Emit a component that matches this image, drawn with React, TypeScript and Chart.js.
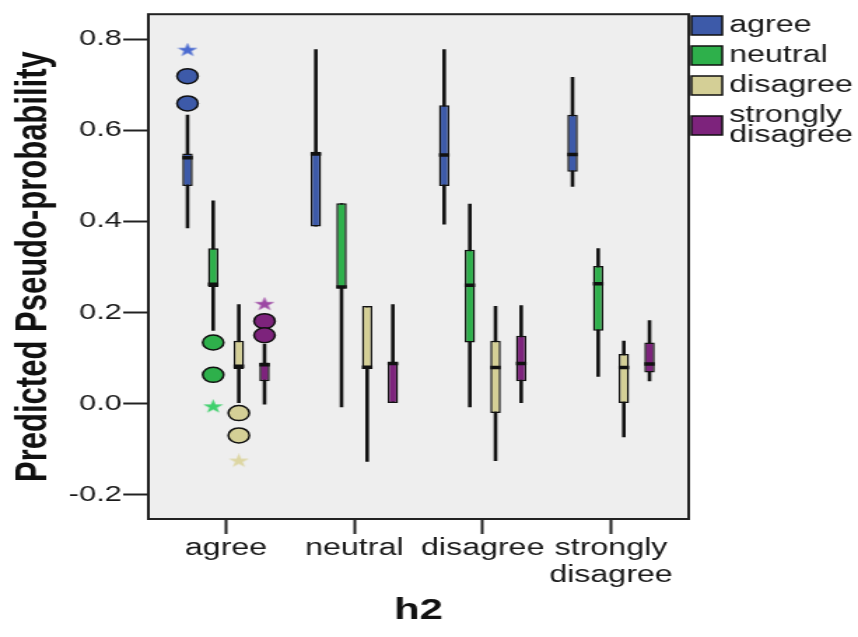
import React, { useEffect, useRef } from 'react';
import { Chart, registerables } from 'chart.js';

Chart.register(...registerables);

// ---------- data ----------
const CATEGORIES: (string | string[])[] = ['agree', 'neutral', 'disagree', ['strongly', 'disagree']];
const CATEGORY_POSITIONS = [0, 1, 2, 3];
const SERIES_LABELS: string[][] = [['agree'], ['neutral'], ['disagree'], ['strongly', 'disagree']];
const SERIES_COLORS = ['#3d5aa9', '#2eb04b', '#d4cf96', '#7d237c'];
const STAR_COLORS = ['#4a6ad0', '#3fd06c', '#ddd6a2', '#9c48a4'];
const SERIES_OFFSETS = [-0.3, -0.1, 0.1, 0.3];
const Y_TICKS = [-0.2, 0, 0.2, 0.4, 0.6, 0.8];

// series "agree"
const AGREE_WLO = [0.385, 0.389, 0.393, 0.476];
const AGREE_Q1 = [0.478, 0.389, 0.478, 0.509];
const AGREE_MED = [0.540, 0.548, 0.546, 0.547];
const AGREE_Q3 = [0.549, 0.553, 0.655, 0.634];
const AGREE_WHI = [0.634, 0.778, 0.778, 0.717];
const AGREE_OUTLIERS = [0.719, 0.659];
const AGREE_EXTREMES = [0.776];

// series "neutral"
const NEUTRAL_WLO = [0.160, -0.008, -0.008, 0.059];
const NEUTRAL_Q1 = [0.256, 0.253, 0.134, 0.160];
const NEUTRAL_MED = [0.262, 0.256, 0.260, 0.263];
const NEUTRAL_Q3 = [0.341, 0.440, 0.338, 0.302];
const NEUTRAL_WHI = [0.446, 0.440, 0.439, 0.341];
const NEUTRAL_OUTLIERS = [0.134, 0.063];
const NEUTRAL_EXTREMES = [-0.007];

// series "disagree"
const DISAGREE_WLO = [0.000, -0.128, -0.126, -0.074];
const DISAGREE_Q1 = [0.076, 0.076, -0.021, 0.000];
const DISAGREE_MED = [0.082, 0.080, 0.079, 0.079];
const DISAGREE_Q3 = [0.138, 0.214, 0.138, 0.109];
const DISAGREE_WHI = [0.218, 0.214, 0.214, 0.138];
const DISAGREE_OUTLIERS = [-0.021, -0.070];
const DISAGREE_EXTREMES = [-0.126];

// series "strongly disagree"
const STRONGLY_WLO = [-0.002, 0.000, 0.000, 0.049];
const STRONGLY_Q1 = [0.049, 0.000, 0.049, 0.068];
const STRONGLY_MED = [0.085, 0.088, 0.088, 0.087];
const STRONGLY_Q3 = [0.090, 0.090, 0.149, 0.134];
const STRONGLY_WHI = [0.131, 0.218, 0.216, 0.183];
const STRONGLY_OUTLIERS = [0.181, 0.150];
const STRONGLY_EXTREMES = [0.218];

// outliers / extremes all belong to the "agree" category
const OUTLIER_CATEGORY = 0;

const SERIES = [
  { wlo: AGREE_WLO, q1: AGREE_Q1, med: AGREE_MED, q3: AGREE_Q3, whi: AGREE_WHI, out: AGREE_OUTLIERS, ext: AGREE_EXTREMES },
  { wlo: NEUTRAL_WLO, q1: NEUTRAL_Q1, med: NEUTRAL_MED, q3: NEUTRAL_Q3, whi: NEUTRAL_WHI, out: NEUTRAL_OUTLIERS, ext: NEUTRAL_EXTREMES },
  { wlo: DISAGREE_WLO, q1: DISAGREE_Q1, med: DISAGREE_MED, q3: DISAGREE_Q3, whi: DISAGREE_WHI, out: DISAGREE_OUTLIERS, ext: DISAGREE_EXTREMES },
  { wlo: STRONGLY_WLO, q1: STRONGLY_Q1, med: STRONGLY_MED, q3: STRONGLY_Q3, whi: STRONGLY_WHI, out: STRONGLY_OUTLIERS, ext: STRONGLY_EXTREMES },
];

// ---------- layout (internal canvas px, displayed stretched horizontally) ----------
const CANVAS_W = 613;
const CANVAS_H = 637;
const DISPLAY_W = 858;
const FONT = '"Liberation Sans", Arial, sans-serif';
const INK = '#111111';

function makeStar(color: string, size: number): HTMLCanvasElement {
  const c = document.createElement('canvas');
  c.width = size;
  c.height = size;
  const ctx = c.getContext('2d')!;
  const cx = size / 2, cy = size / 2;
  const ro = size / 2, ri = size * 0.19;
  ctx.beginPath();
  for (let i = 0; i < 10; i++) {
    const r = i % 2 === 0 ? ro : ri;
    const a = -Math.PI / 2 + (i * Math.PI) / 5;
    const x = cx + r * Math.cos(a), y = cy + r * Math.sin(a);
    if (i === 0) ctx.moveTo(x, y); else ctx.lineTo(x, y);
  }
  ctx.closePath();
  ctx.fillStyle = color;
  ctx.fill();
  return c;
}

const plotFrame = {
  id: 'plotFrame',
  beforeDraw(chart: any) {
    const { ctx, chartArea: a } = chart;
    ctx.save();
    ctx.fillStyle = '#ffffff';
    ctx.fillRect(0, 0, chart.width, chart.height);
    ctx.fillStyle = '#eeeeee';
    ctx.fillRect(a.left, a.top, a.right - a.left, a.bottom - a.top);
    ctx.restore();
  },
  afterDraw(chart: any) {
    const { ctx, chartArea: a } = chart;
    ctx.save();
    ctx.strokeStyle = '#222222';
    ctx.lineWidth = 2;
    ctx.strokeRect(a.left, a.top, a.right - a.left, a.bottom - a.top);
    ctx.restore();
  },
};

const sideLegend = {
  id: 'sideLegend',
  afterDraw(chart: any) {
    const { ctx, chartArea: a } = chart;
    const lineH = 20, gap = 10;
    let top = 10.5;
    const boxX = a.right + 2, boxW = 22, boxH = 19;
    ctx.save();
    ctx.font = `23px ${FONT}`;
    ctx.textBaseline = 'middle';
    ctx.textAlign = 'left';
    SERIES_LABELS.forEach((lines, i) => {
      const h = lines.length * lineH + gap;
      const cy = top + h / 2;
      ctx.fillStyle = SERIES_COLORS[i];
      ctx.fillRect(boxX, cy - boxH / 2, boxW, boxH);
      ctx.strokeStyle = INK;
      ctx.lineWidth = 1.5;
      ctx.strokeRect(boxX, cy - boxH / 2, boxW, boxH);
      ctx.fillStyle = '#1a1a1a';
      lines.forEach((t, j) => {
        const ty = cy - ((lines.length - 1) * lineH) / 2 + j * lineH;
        ctx.fillText(t, boxX + boxW + 5, ty);
      });
      top += h;
    });
    ctx.restore();
  },
};

export default function App() {
  const ref = useRef<HTMLCanvasElement>(null);

  useEffect(() => {
    const canvas = ref.current!;
    const datasets: any[] = [];
    SERIES.forEach((s, si) => {
      const xs = CATEGORY_POSITIONS.map((c) => c + SERIES_OFFSETS[si]);
      const label = SERIES_LABELS[si].join(' ');
      datasets.push({
        type: 'bar',
        label: label + ' whisker',
        data: xs.map((x, i) => ({ x, y: [s.wlo[i], s.whi[i]] })),
        backgroundColor: INK,
        borderWidth: 0,
        maxBarThickness: 2.6,
        grouped: false,
        order: 4,
      });
      datasets.push({
        type: 'bar',
        label,
        data: xs.map((x, i) => ({ x, y: [s.q1[i], s.q3[i]] })),
        backgroundColor: SERIES_COLORS[si],
        borderColor: INK,
        borderWidth: 1.5,
        borderSkipped: false,
        maxBarThickness: 7.5,
        grouped: false,
        order: 3,
      });
      datasets.push({
        type: 'scatter',
        label: label + ' median',
        data: xs.map((x, i) => ({ x, y: s.med[i] })),
        pointStyle: 'line',
        pointRadius: 3.75,
        pointBorderColor: INK,
        pointBackgroundColor: INK,
        pointBorderWidth: 3.5,
        order: 2,
      });
      const ox = OUTLIER_CATEGORY + SERIES_OFFSETS[si];
      datasets.push({
        type: 'scatter',
        label: label + ' outliers',
        data: s.out.map((v) => ({ x: ox, y: v })),
        pointStyle: 'circle',
        pointRadius: 7.5,
        pointBackgroundColor: SERIES_COLORS[si],
        pointBorderColor: INK,
        pointBorderWidth: 1.5,
        order: 1,
      });
      datasets.push({
        type: 'scatter',
        label: label + ' extremes',
        data: s.ext.map((v) => ({ x: ox, y: v })),
        pointStyle: makeStar(STAR_COLORS[si], 15),
        pointRadius: 7,
        order: 1,
      });
    });

    const chart = new Chart(canvas, {
      type: 'bar',
      data: { datasets },
      options: {
        responsive: false,
        animation: false,
        devicePixelRatio: 1,
        events: [],
        layout: { padding: { top: 12, right: 121, left: 0, bottom: 0 } },
        plugins: {
          legend: { display: false },
          tooltip: { enabled: false },
          title: { display: false },
        },
        scales: {
          x: {
            type: 'linear',
            offset: false,
            min: -0.605,
            max: 3.605,
            afterBuildTicks: (scale: any) => {
              scale.ticks = CATEGORY_POSITIONS.map((v) => ({ value: v }));
            },
            afterFit: (scale: any) => {
              scale.height = 118;
            },
            border: { display: false },
            grid: {
              offset: false,
              drawOnChartArea: false,
              drawTicks: true,
              tickLength: 15,
              tickWidth: 2,
              tickColor: '#222222',
            },
            ticks: {
              autoSkip: false,
              maxRotation: 0,
              minRotation: 0,
              padding: 1,
              color: '#1a1a1a',
              font: { family: FONT, size: 23, lineHeight: 27 / 23 },
              callback: (v: any) => CATEGORIES[CATEGORY_POSITIONS.indexOf(Number(v))] as any,
            },
            title: {
              display: true,
              text: 'h2',
              color: '#111111',
              font: { family: FONT, size: 30, weight: 'bold' },
              padding: { top: 0, bottom: 8 },
            },
          },
          y: {
            type: 'linear',
            min: -0.2535,
            max: 0.855,
            afterBuildTicks: (scale: any) => {
              scale.ticks = Y_TICKS.map((v) => ({ value: v }));
            },
            afterFit: (scale: any) => {
              scale.width = 106;
            },
            border: { display: false },
            grid: {
              drawOnChartArea: false,
              drawTicks: true,
              tickLength: 18,
              tickWidth: 2,
              tickColor: '#222222',
            },
            ticks: {
              padding: 1,
              color: '#1a1a1a',
              font: { family: FONT, size: 22 },
              callback: (v: any) => Number(v).toFixed(1),
            },
            title: {
              display: true,
              text: 'Predicted Pseudo-probability',
              color: '#111111',
              font: { family: FONT, size: 31, weight: 'bold' },
              padding: { top: 6, bottom: 0 },
            },
          },
        },
      } as any,
      plugins: [plotFrame, sideLegend],
    });

    return () => chart.destroy();
  }, []);

  return (
    <div style={{ position: 'fixed', left: 0, top: 0, width: DISPLAY_W, height: CANVAS_H, background: '#ffffff' }}>
      <canvas
        ref={ref}
        width={CANVAS_W}
        height={CANVAS_H}
        style={{ display: 'block', width: `${DISPLAY_W}px`, height: `${CANVAS_H}px` }}
      />
    </div>
  );
}
